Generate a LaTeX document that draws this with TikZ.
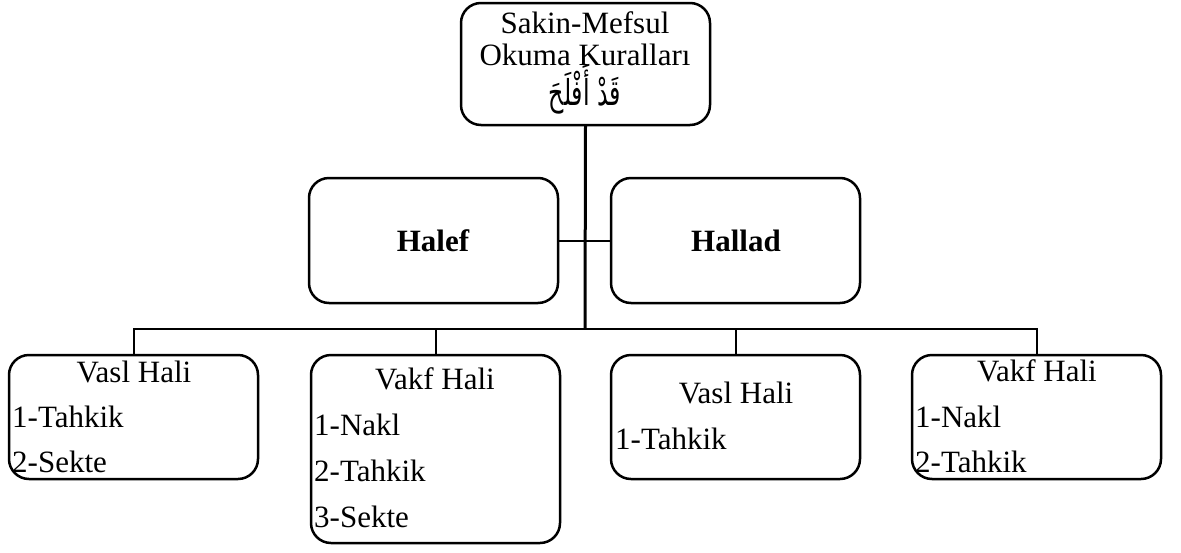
\documentclass[tikz,border=0pt]{standalone}
\usepackage{fontspec}
\setmainfont{Liberation Serif}
\newfontfamily\arabicfont[Script=Arabic]{DejaVu Sans}
\TeXXeTstate=1
\begin{document}
\begin{tikzpicture}[x=1pt,y=-1pt,
  box/.style={draw, line width=2.5pt, rounded corners=20pt, inner sep=0pt, outer sep=0pt, minimum width=249pt, anchor=north west},
  conn/.style={line width=2pt},
  mainline/.style={line width=3pt},
  txt/.style={font=\fontsize{31}{36}\selectfont, inner sep=0pt, anchor=base},
  btxt/.style={font=\fontsize{31}{36}\selectfont\bfseries, inner sep=0pt, anchor=base},
  item/.style={txt, anchor=base west},
]
\useasboundingbox (0,0) rectangle (1181,552);
% boxes
\node[box, minimum height=122pt] (top) at (461,3) {};
\node[box, minimum height=125pt] (halef) at (309,178) {};
\node[box, minimum height=125pt] (hallad) at (611,178) {};
\node[box, minimum height=124pt] (b1) at (9,355) {};
\node[box, minimum height=188pt] (b2) at (311,355) {};
\node[box, minimum height=124pt] (b3) at (611,355) {};
\node[box, minimum height=124pt] (b4) at (912,355) {};
% connectors
\coordinate (bar) at (585,329);
\draw[mainline] (top.south) -- (bar);
\draw[conn] (halef.east) -- (hallad.west);
\draw[conn] (b1.north) |- (bar) -| (b4.north);
\draw[conn] (b2.north) -- (b2.north |- bar);
\draw[conn] (b3.north) -- (b3.north |- bar);
% texts
\node[txt] (t1) at (585,33) {Sakin-Mefsul};
\node[txt] (t2) at (585,65) {Okuma Kuralları};
\node[txt, font=\fontsize{27}{30}\arabicfont] (t3) at (585,105) {\scalebox{0.88}[1.32]{\beginR قَدْ أَفْلَحَ\endR}};
\node[btxt] (th1) at (433,251) {Halef};
\node[btxt] (th2) at (736,251) {Hallad};
\node[txt] (a0) at (134,382) {Vasl Hali};
\node[item] (a1) at (12,427) {1-Tahkik};
\node[item] (a2) at (12,472) {2-Sekte};
\node[txt] (c0) at (435,389) {Vakf Hali};
\node[item] (c1) at (314,435) {1-Nakl};
\node[item] (c2) at (314,481) {2-Tahkik};
\node[item] (c3) at (314,527) {3-Sekte};
\node[txt] (d0) at (736,403) {Vasl Hali};
\node[item] (d1) at (615,449) {1-Tahkik};
\node[txt] (e0) at (1037,381) {Vakf Hali};
\node[item] (e1) at (915,427) {1-Nakl};
\node[item] (e2) at (915,472) {2-Tahkik};
\end{tikzpicture}
\end{document}
